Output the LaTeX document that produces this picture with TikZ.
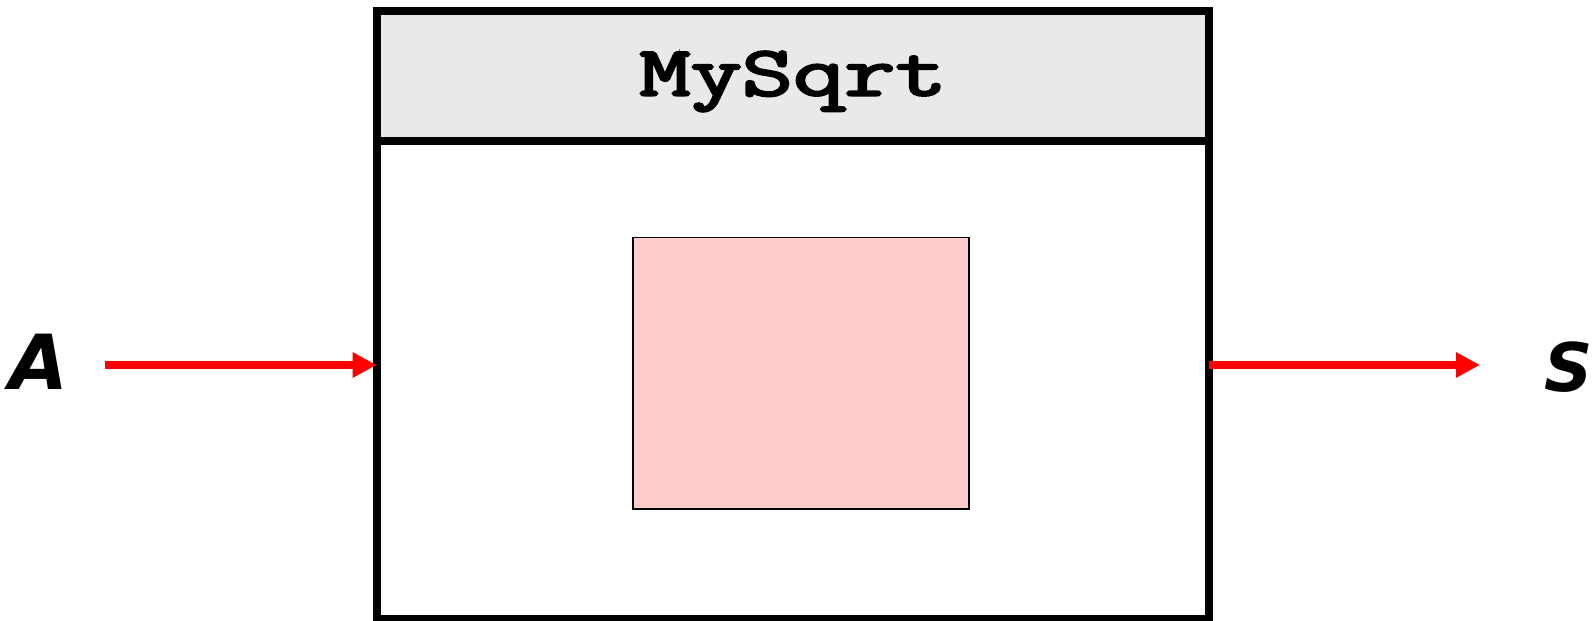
\documentclass[tikz,border=0pt]{standalone}
\usepackage{fontspec}
\usetikzlibrary{arrows.meta}
\newfontfamily\titlefont[FakeBold=3]{Latin Modern Mono}
\newfontfamily\labelfont{DejaVu Sans}
\definecolor{hdrgray}{RGB}{233,233,233}
\definecolor{pinkfill}{RGB}{253,204,204}
\begin{document}
\begin{tikzpicture}[x=1pt,y=-1pt,
  frame/.style={draw=black, line width=8pt, inner sep=0pt, outer sep=0pt, rectangle},
  inner/.style={draw=black, line width=1.8pt, fill=pinkfill, inner sep=0pt, outer sep=0pt, rectangle},
  flow/.style={draw=red, line width=8pt, -{Triangle[length=24pt,width=24pt]}},
  varlabel/.style={anchor=base, inner sep=0pt, font=\labelfont\bfseries\itshape}]
\useasboundingbox (0,0) rectangle (1593,621);
\node[frame, fill=hdrgray, minimum width=832.3pt, minimum height=129.5pt] (hdr) at (792.85,75.75) {};
\node[frame, minimum width=832.3pt, minimum height=478.2pt] (body) at (792.85,379.6) {};
\node[anchor=base, inner sep=0pt] (title) at (793,95.5) {\titlefont\fontsize{71}{71}\selectfont\scalebox{1.4}[1]{MySqrt}};
\node[inner, minimum width=336pt, minimum height=271.5pt] (core) at (801,373.25) {};
\node[varlabel] (A) at (39,389) {\fontsize{76}{76}\selectfont A};
\node[varlabel] (S) at (1569,391) {\fontsize{67}{67}\selectfont S};
\coordinate (ain) at (105,365);
\coordinate (aout) at (1480,365);
\draw[flow] (ain) -- (ain -| body.west);
\draw[flow] (aout -| body.east) -- (aout);
\end{tikzpicture}
\end{document}
